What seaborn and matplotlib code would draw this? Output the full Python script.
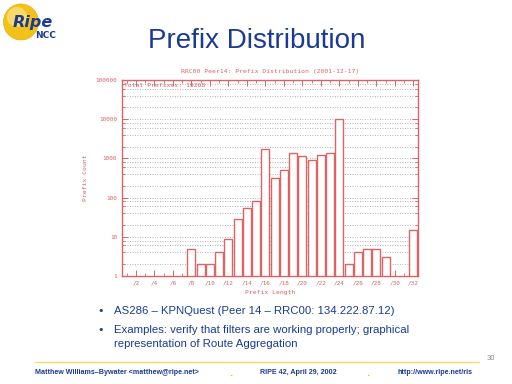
import seaborn as sns
import pandas as pd
import matplotlib.pyplot as plt
from matplotlib.patches import Ellipse
from matplotlib.lines import Line2D

sns.set_theme(style="white")

# prefix lengths (x) and prefix counts
lengths = [8, 9, 10, 11, 12, 13, 14, 15, 16, 17, 18, 19, 20, 21, 22, 23, 24,
           25, 26, 27, 28, 29, 32]
counts = [5, 2, 2, 4, 9, 29, 55, 84, 1700, 310, 500, 1340, 1130, 890, 1200,
          1350, 10200, 2, 4, 5, 5, 3, 15]
xtick_vals = list(range(2, 33, 2))
xtick_labels = ["/%d" % v for v in xtick_vals]
ytick_vals = [1, 10, 100, 1000, 10000, 100000]
ytick_labels = ["1", "10", "100", "1000", "10000", "100000"]

df = pd.DataFrame({"Prefix Length": lengths, "Prefix Count": counts})

red = "#dc6464"
navy = "#1b3a94"
W, H = 512, 384

fig = plt.figure(figsize=(5.12, 3.84), dpi=100)
fig.patch.set_facecolor("white")

def fx(px):
    return px / W

def fy(py):
    return 1 - py / H

# ---- chart ----
ax = fig.add_axes([fx(122), fy(276), fx(418 - 122), (276 - 80) / H])
ax.set_yscale("log")
sns.barplot(data=df, x="Prefix Length", y="Prefix Count", native_scale=True,
            width=0.85, color="white", edgecolor=red, linewidth=1.0, ax=ax)
ax.set_xlim(0.5, 32.5)
ax.set_ylim(1, 100000)

# dotted horizontal grid at 1,2,4,6,8 per decade
grid_vals = [m * 10 ** d for d in range(5) for m in (1, 2, 4, 6, 8)]
for g in grid_vals:
    if g > 1:
        ax.axhline(g, color="#9a9a9a", lw=0.6, ls=(0, (1, 2)), zorder=0)

ax.set_xticks(xtick_vals)
ax.set_xticklabels(xtick_labels)
ax.set_xticks(range(1, 33), minor=True)
ax.set_yticks(ytick_vals)
ax.set_yticklabels(ytick_labels)
ax.set_yticks([g for g in grid_vals if g not in ytick_vals], minor=True)
ax.yaxis.set_minor_formatter(plt.NullFormatter())
ax.tick_params(axis="both", which="both", direction="in", colors=red,
               labelcolor=red, labelsize=4.3, top=True, right=True,
               bottom=True, left=True)
ax.tick_params(which="major", length=4, width=0.7)
ax.tick_params(which="minor", length=2, width=0.6)
for lab in ax.get_xticklabels() + ax.get_yticklabels():
    lab.set_family("DejaVu Sans Mono")
for s in ax.spines.values():
    s.set_color(red)
    s.set_linewidth(1.0)
ax.set_xlabel("Prefix Length", fontsize=4.6, color=red,
              family="DejaVu Sans Mono", labelpad=3)
ax.set_ylabel("Prefix Count", fontsize=4.6, color=red,
              family="DejaVu Sans Mono", labelpad=5)
ax.set_title("RRC00 Peer14: Prefix Distribution (2001-12-17)", fontsize=4.6,
             color=red, family="DejaVu Sans Mono", pad=5)
ax.text(0.008, 0.985, "Total Prefixes: 19268", transform=ax.transAxes,
        fontsize=4.6, color=red, family="DejaVu Sans Mono", va="top")

# ---- slide decoration ----
fig.patches.append(Ellipse((fx(21), fy(22)), 35 / W, 36 / H,
                           transform=fig.transFigure, facecolor="#f2c21b",
                           edgecolor="#e8b010", lw=0.5))
fig.patches.append(Ellipse((fx(17), fy(17)), 20 / W, 20 / H,
                           transform=fig.transFigure, facecolor="#f9e27a",
                           edgecolor="none", alpha=0.8))
fig.text(fx(13), fy(22), "Ripe", fontsize=11.5, fontweight="bold",
         style="italic", color=navy, va="center")
fig.text(fx(35), fy(36), "NCC", fontsize=6.5, fontweight="bold",
         color=navy, va="center")

fig.text(fx(257), fy(41), "Prefix Distribution", fontsize=20, color=navy,
         ha="center", va="center", family="Liberation Sans")

fig.text(fx(97), fy(311), "\u2022", fontsize=8, color=navy, va="center")
fig.text(fx(114), fy(311), "AS286 \u2013 KPNQuest (Peer 14 \u2013 RRC00: 134.222.87.12)",
         fontsize=8.2, color=navy, va="center", family="Liberation Sans")
fig.text(fx(97), fy(330), "\u2022", fontsize=8, color=navy, va="center")
fig.text(fx(114), fy(330), "Examples: verify that filters are working properly; graphical",
         fontsize=8.2, color=navy, va="center", family="Liberation Sans")
fig.text(fx(114), fy(344), "representation of Route Aggregation",
         fontsize=8.2, color=navy, va="center", family="Liberation Sans")

fig.lines.append(Line2D([fx(35), fx(479)], [fy(362), fy(362)],
                        transform=fig.transFigure, color="#f5d86a", lw=1.0))
fig.text(fx(487), fy(358), "30", fontsize=5.5, color="#888888", va="center",
         family="Liberation Sans")
foot = dict(fontsize=5.1, color=navy, fontweight="bold", va="center",
            family="Liberation Sans")
fig.text(fx(35), fy(373), "Matthew Williams\u2013Bywater <matthew@ripe.net>", **foot)
fig.text(fx(260), fy(373), "RIPE 42, April 29, 2002", **foot)
fig.text(fx(398), fy(373), "http://www.ripe.net/ris", **foot)
fig.text(fx(229), fy(374), ".", fontsize=6, color="#f0c020", fontweight="bold",
         va="center")
fig.text(fx(366), fy(374), ".", fontsize=6, color="#f0c020", fontweight="bold",
         va="center")

fig.savefig("out.png", dpi=100)
